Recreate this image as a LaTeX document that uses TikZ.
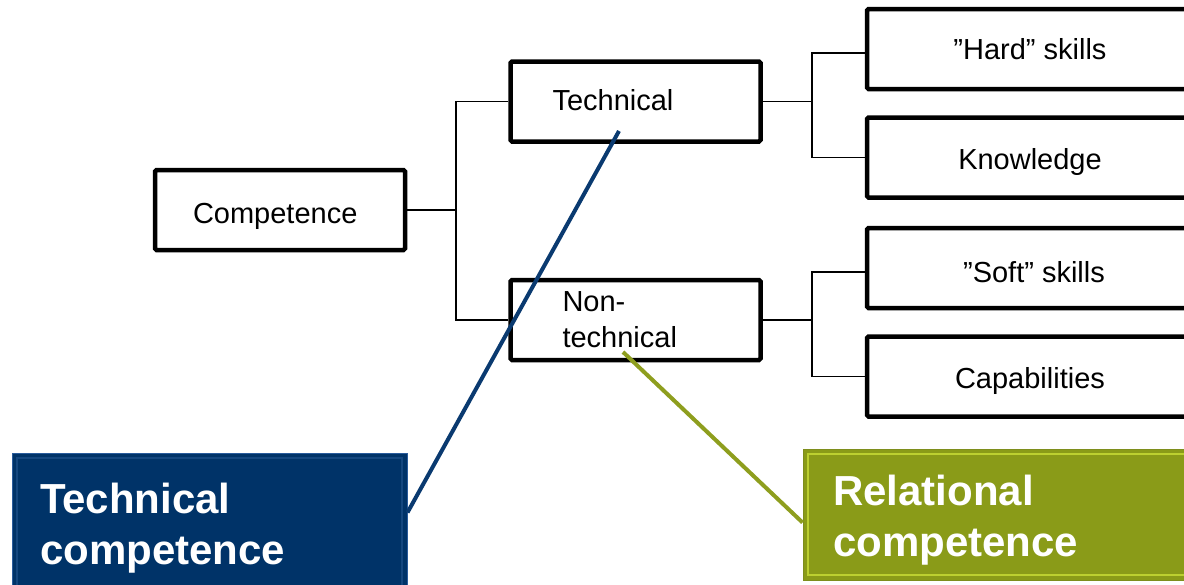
\documentclass[tikz,border=0pt]{standalone}
\usepackage{fontspec}
\setmainfont{Liberation Sans}
\usetikzlibrary{calc}
\definecolor{navy}{HTML}{003368}
\definecolor{navyedge}{HTML}{2A5C9C}
\definecolor{navyinner}{HTML}{14477F}
\definecolor{navyline}{HTML}{0A3A70}
\definecolor{olive}{HTML}{8A9B18}
\definecolor{oliveedge}{HTML}{7E8E1C}
\definecolor{lime}{HTML}{BCD030}
\definecolor{oliveline}{HTML}{8E9E1E}
\begin{document}
\begin{tikzpicture}[x=1pt,y=-1pt,
  box/.style={draw=black, line width=4.5pt, rounded corners=1.5pt, minimum height=80pt,
    inner ysep=0pt, font=\fontsize{29}{36}\selectfont},
  one/.style={text height=#1, text depth=0pt},
  conn/.style={line width=1.6pt},
  callout/.style={font=\fontsize{42}{51}\selectfont\bfseries, text=white, align=left, inner ysep=0pt},
  inset/.style={path picture={\draw[#1,line width=1.5pt]
      ([shift={(5,5)}]path picture bounding box.north west) rectangle
      ([shift={(-5,-5)}]path picture bounding box.south east);}}]
\useasboundingbox (0,0) rectangle (1184,584);
\clip (0,0) rectangle (1184,584);

% main boxes
\node[box, one=27pt, inner xsep=38pt, text width=174pt, align=left] (comp) at (280,210) {Competence};
\node[box, one=18pt, inner xsep=42pt, text width=166pt, align=left] (tech) at (635.5,101.5) {Technical};
\node[box, inner xsep=52pt, text width=146pt, align=left] (nontech) at (635.5,320) {Non-\\technical};

\node[box, one=21pt, minimum width=326pt] (hard) at (1030,49) {”Hard” skills};
\node[box, one=24pt, minimum width=326pt] (know) at (1030,157.5) {Knowledge};
\node[box, one=29pt, minimum width=326pt] (soft) at (1030,268) {\hspace*{8pt}”Soft” skills};
\node[box, one=24pt, minimum width=326pt] (cap) at (1030,376.5) {Capabilities};

% tree connectors
\coordinate (j1) at (456,210);
\draw[conn] (comp.east) -- (j1);
\draw[conn] (tech.west) -- (tech.west -| j1) -- (nontech.west -| j1) -- (nontech.west);

\coordinate (j2) at (812,101.5);
\draw[conn] (tech.east) -- (j2);
\draw[conn] ($(hard.west)+(0,4)$) -| (j2) |- (know.west);

\coordinate (j3) at (812,320);
\draw[conn] (nontech.east) -- (j3);
\draw[conn] ($(soft.west)+(0,4)$) -| (j3) |- (cap.west);

% callouts
\node[callout, fill=navy, draw=navyedge, line width=1pt, inset=navyinner,
  minimum width=395pt, minimum height=138pt, inner xsep=28pt, text width=339pt]
  (techcomp) at (209.5,522) {\rule{0pt}{42pt}Technical\\competence};
\node[callout, fill=olive, draw=oliveedge, line width=1pt, inset=lime,
  minimum width=387pt, minimum height=131pt, inner xsep=30pt, text width=327pt]
  (relcomp) at (996.5,514.5) {\rule{0pt}{42pt}Relational\\competence};

% pointer lines
\coordinate (tp) at (619,131);
\coordinate (np) at (623,352);
\draw[navyline, line width=4pt] (tp) -- ($(techcomp.north east)+(0,60)$);
\draw[oliveline, line width=4pt] (np) -- ($(relcomp.west)+(0,8)$);
\end{tikzpicture}
\end{document}
